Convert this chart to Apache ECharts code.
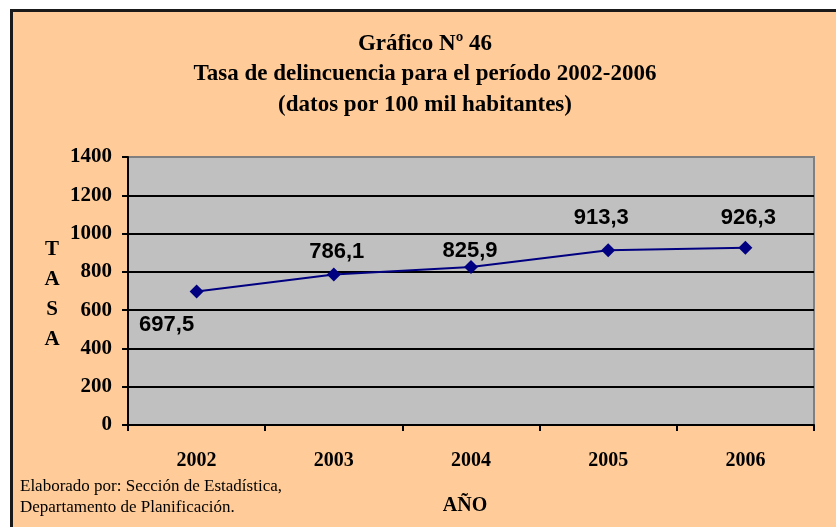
<!DOCTYPE html>
<html>
<head>
<meta charset="utf-8">
<script src="https://cdn.jsdelivr.net/npm/echarts@6/dist/echarts.min.js"></script>
<style>
  html, body { margin: 0; padding: 0; background: #ffffff; }
  #chart { width: 836px; height: 527px; }
</style>
</head>
<body>
<div id="chart"></div>
<script>
// Años y tasa de delincuencia (por 100 mil habitantes)
const years = ['2002', '2003', '2004', '2005', '2006'];
const rates = [697.5, 786.1, 825.9, 913.3, 926.3];
const yTicks = [0, 200, 400, 600, 800, 1000, 1200, 1400];

const titleLines = [
  'Gráfico Nº 46',
  'Tasa de delincuencia para el período 2002-2006',
  '(datos por 100 mil habitantes)'
];
const yAxisLetters = ['T', 'A', 'S', 'A'];
const sourceLines = [
  'Elaborado por: Sección de Estadística,',
  'Departamento de Planificación.'
];

const serif = '"Liberation Serif", "Times New Roman", serif';
const sans = '"Liberation Sans", Arial, sans-serif';

// Label nudges around each marker
const labelShift = [[-30, 33], [3, -23], [-1, -16], [-7, -32], [3, -30]];

const chart = echarts.init(document.getElementById('chart'));

const graphics = [
  {
    type: 'rect',
    shape: { x: 11.5, y: 10.5, width: 840, height: 540 },
    style: { fill: '#FFCC99', stroke: '#1a1a1a', lineWidth: 3 },
    z: -10
  }
];
titleLines.forEach((t, i) => {
  graphics.push({
    type: 'text', x: 425, y: 44 + i * 30.5,
    style: { text: t, font: 'bold 23px ' + serif, fill: '#000', textAlign: 'center', textVerticalAlign: 'middle' }
  });
});
yAxisLetters.forEach((t, i) => {
  graphics.push({
    type: 'text', x: 52, y: 250 + i * 29.7,
    style: { text: t, font: 'bold 21px ' + serif, fill: '#000', textAlign: 'center', textVerticalAlign: 'middle' }
  });
});
sourceLines.forEach((t, i) => {
  graphics.push({
    type: 'text', x: 20, y: 487 + i * 20.5,
    style: { text: t, font: '17px ' + serif, fill: '#000', textAlign: 'left', textVerticalAlign: 'middle' }
  });
});
graphics.push({
  type: 'text', x: 465, y: 506,
  style: { text: 'AÑO', font: 'bold 20px ' + serif, fill: '#000', textAlign: 'center', textVerticalAlign: 'middle' }
});

chart.setOption({
  backgroundColor: '#ffffff',
  animation: false,
  graphic: graphics,
  grid: {
    left: 128, top: 157, right: 22, bottom: 102,
    show: true, backgroundColor: '#C0C0C0', borderColor: '#808080', borderWidth: 2
  },
  xAxis: {
    type: 'category',
    data: years,
    boundaryGap: true,
    axisLine: { lineStyle: { color: '#000', width: 2 } },
    axisTick: { show: true, interval: 0, length: 6, lineStyle: { color: '#000', width: 2 } },
    axisLabel: { margin: 26, color: '#000', fontFamily: serif, fontWeight: 'bold', fontSize: 20 },
    splitLine: { show: false }
  },
  yAxis: {
    type: 'value',
    min: yTicks[0], max: yTicks[yTicks.length - 1], interval: yTicks[1] - yTicks[0],
    axisLine: { show: true, lineStyle: { color: '#000', width: 2 } },
    axisTick: { show: true, length: 6, lineStyle: { color: '#000', width: 2 } },
    axisLabel: {
      margin: 16, color: '#000', fontFamily: serif, fontWeight: 'bold', fontSize: 21,
      formatter: v => String(v)
    },
    splitLine: { show: true, showMaxLine: false, lineStyle: { color: '#000', width: 2 } }
  },
  series: [{
    type: 'line',
    data: rates.map((v, i) => ({
      value: v,
      label: { offset: labelShift[i] }
    })),
    symbol: 'diamond',
    symbolSize: 14,
    itemStyle: { color: '#000080' },
    lineStyle: { color: '#000080', width: 2 },
    label: {
      show: true,
      position: 'inside',
      align: 'center',
      verticalAlign: 'middle',
      color: '#000',
      fontFamily: sans,
      fontWeight: 'bold',
      fontSize: 22,
      formatter: p => p.value.toFixed(1).replace('.', ',')
    }
  }]
});
</script>
</body>
</html>
